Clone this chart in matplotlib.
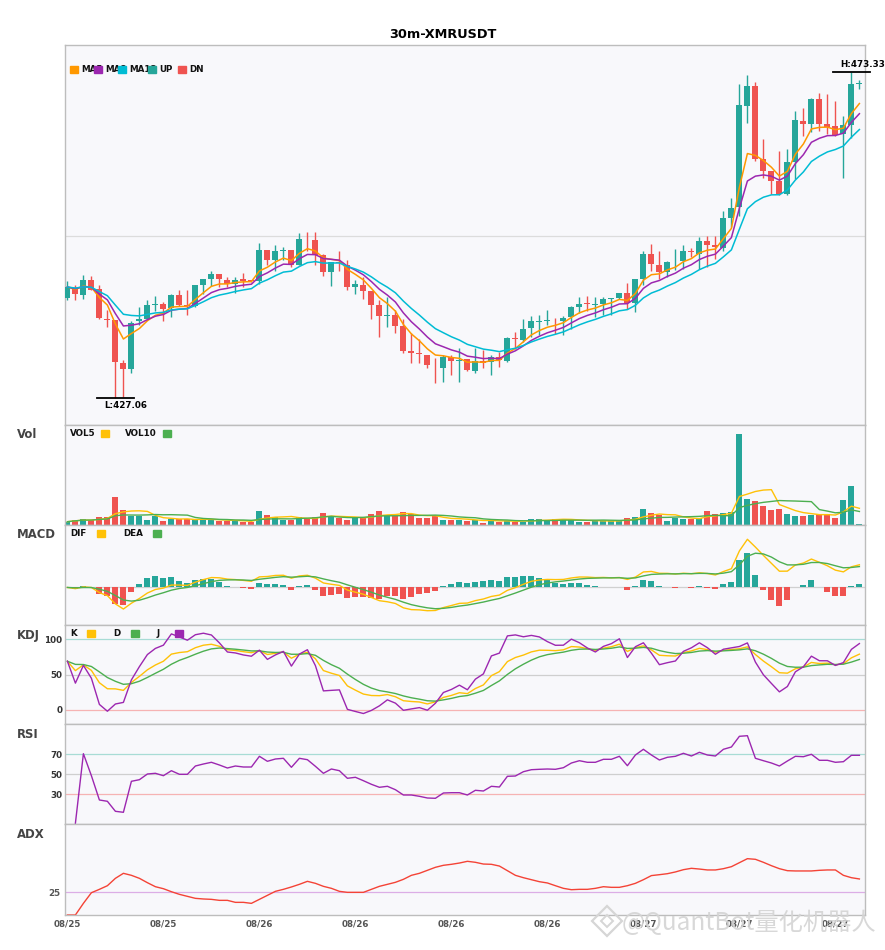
import numpy as np
import pandas as pd
import matplotlib
matplotlib.use('Agg')
import matplotlib.pyplot as plt
from matplotlib.patches import Rectangle
from matplotlib.lines import Line2D

plt.rcParams['font.family'] = ['DejaVu Sans']

# %% data (30m candles, 100 bars)
TITLE = '30m-XMRUSDT'
START = '2025-08-25 13:30'

opens = [441.31, 442.58, 441.73, 443.86, 442.58, 438.34, 438.10, 431.97, 431.16, 437.96,
         438.34, 440.22, 440.36, 439.89, 441.63, 440.22, 440.08, 443.05, 443.90, 444.71,
         443.86, 443.29, 443.90, 443.76, 443.66, 448.10, 446.59, 447.90, 448.00, 445.88,
         449.66, 449.52, 447.29, 444.93, 446.35, 445.88, 442.81, 443.05, 442.24, 440.22,
         438.66, 438.80, 437.25, 433.71, 433.47, 433.14, 431.49, 431.35, 432.82, 432.37,
         432.58, 430.88, 432.30, 432.20, 432.82, 432.30, 435.51, 435.27, 437.01, 437.81,
         437.96, 438.03, 437.96, 438.56, 439.98, 440.46, 440.29, 440.40, 441.11, 441.25,
         442.02, 440.55, 443.90, 447.54, 445.98, 444.93, 446.30, 446.45, 447.95, 447.54,
         449.28, 448.71, 448.33, 452.63, 454.13, 468.52, 471.35, 460.98, 459.32, 457.91,
         456.03, 460.60, 466.35, 465.97, 469.44, 465.93, 465.69, 464.51, 465.79, 471.63]
highs = [443.62, 443.05, 444.56, 444.32, 443.05, 439.51, 438.10, 432.44, 437.96, 439.98,
         441.03, 441.49, 440.69, 441.78, 442.44, 442.44, 443.15, 444.00, 445.03, 444.71,
         444.22, 444.22, 444.79, 443.86, 449.03, 448.10, 448.81, 448.47, 448.00, 450.51,
         450.59, 450.69, 447.54, 446.35, 447.95, 446.69, 443.86, 444.22, 442.24, 440.93,
         441.39, 439.51, 438.34, 436.22, 435.37, 433.14, 432.68, 433.14, 433.14, 434.09,
         432.58, 434.18, 433.85, 433.14, 433.53, 435.73, 436.44, 438.34, 438.71, 438.80,
         439.51, 438.42, 438.71, 440.08, 441.39, 441.54, 441.39, 441.39, 441.31, 442.02,
         443.43, 444.00, 447.95, 448.85, 447.95, 446.45, 448.14, 448.71, 448.38, 449.88,
         450.12, 450.12, 453.66, 455.46, 471.59, 472.91, 471.92, 463.81, 459.32, 462.15,
         462.44, 467.81, 468.28, 469.69, 470.32, 470.17, 469.23, 467.10, 473.33, 472.20]
lows = [441.03, 441.03, 441.17, 442.34, 438.20, 437.15, 427.06, 427.16, 430.64, 437.39,
        438.20, 439.37, 437.96, 438.56, 440.08, 438.80, 439.98, 441.88, 442.95, 442.81,
        442.81, 441.96, 442.81, 443.57, 443.29, 445.88, 445.07, 446.69, 445.64, 445.88,
        447.95, 445.88, 444.32, 442.91, 445.07, 442.44, 441.78, 441.17, 438.20, 435.73,
        437.15, 436.22, 433.47, 432.06, 432.06, 431.35, 429.14, 429.37, 430.31, 429.28,
        430.92, 430.56, 431.35, 430.31, 431.49, 432.11, 433.99, 435.03, 435.73, 435.97,
        437.39, 436.12, 435.97, 436.92, 439.19, 439.41, 438.56, 438.80, 438.90, 441.17,
        439.75, 439.27, 443.05, 445.07, 443.90, 444.22, 445.17, 445.41, 447.06, 445.41,
        445.64, 446.73, 447.95, 451.30, 452.95, 466.16, 460.74, 458.26, 456.03, 455.93,
        455.93, 458.15, 464.27, 464.84, 464.98, 464.51, 464.27, 458.23, 464.03, 470.97]
closes = [442.81, 441.78, 443.86, 442.44, 438.42, 438.10, 432.20, 431.16, 437.77, 438.34,
          440.22, 440.36, 439.75, 441.63, 440.22, 440.08, 443.05, 443.90, 444.71, 443.90,
          443.29, 443.86, 443.71, 443.66, 448.10, 446.69, 447.86, 448.00, 445.88, 449.66,
          449.56, 447.29, 444.93, 446.35, 446.20, 442.81, 443.19, 442.24, 440.22, 438.66,
          438.76, 437.25, 433.71, 433.47, 433.24, 431.73, 431.40, 432.82, 432.34, 432.44,
          431.02, 432.30, 431.97, 432.90, 432.44, 435.51, 435.41, 436.92, 437.96, 437.88,
          438.03, 437.93, 438.48, 439.98, 440.46, 440.36, 440.36, 441.17, 441.17, 442.02,
          440.60, 443.90, 447.54, 446.12, 444.93, 446.35, 446.40, 447.95, 447.72, 449.28,
          448.81, 448.53, 452.63, 454.04, 468.62, 471.35, 460.98, 459.32, 457.91, 456.03,
          460.60, 466.54, 466.02, 469.51, 465.93, 465.59, 464.42, 465.79, 471.59, 471.70]
volumes = [330, 500, 630, 500, 830, 830, 2830, 1530, 930, 930,
           530, 870, 370, 600, 600, 600, 530, 530, 530, 430,
           370, 430, 330, 270, 1430, 1030, 830, 470, 470, 830,
           700, 830, 1230, 830, 700, 530, 700, 830, 1130, 1430,
           930, 870, 1330, 1100, 670, 670, 870, 530, 530, 530,
           430, 530, 230, 530, 330, 430, 330, 330, 600, 600,
           530, 600, 530, 530, 330, 330, 430, 430, 430, 430,
           730, 830, 1630, 1230, 1030, 430, 730, 630, 630, 730,
           1430, 1130, 1230, 1330, 9030, 2630, 2430, 1930, 1530, 1630,
           1130, 930, 930, 1030, 1130, 1130, 730, 2530, 3830, 70]
# RSI and ADX as drawn in the chart
rsi_vals = [np.nan, 0.7, 70.3, 48.3, 24.0, 22.7, 12.7, 11.7, 42.7, 44.3,
            50.0, 50.7, 48.3, 53.3, 49.7, 49.7, 58.0, 60.0, 61.7, 59.0,
            56.0, 58.0, 57.0, 57.0, 67.7, 62.7, 65.0, 65.7, 56.7, 65.7,
            64.3, 57.7, 50.7, 55.0, 53.3, 45.7, 46.7, 43.3, 39.7, 36.7,
            37.7, 34.3, 29.0, 29.0, 27.7, 26.0, 25.7, 31.0, 31.3, 31.3,
            29.0, 33.7, 33.0, 37.7, 37.0, 47.7, 48.0, 52.3, 54.3, 54.7,
            55.0, 54.7, 56.3, 61.0, 63.3, 61.7, 61.7, 64.7, 64.7, 67.7,
            58.3, 69.0, 74.7, 69.0, 64.0, 66.7, 67.7, 70.7, 68.0, 71.7,
            69.0, 68.0, 74.7, 77.0, 87.7, 88.3, 65.7, 63.3, 61.0, 58.0,
            63.0, 67.7, 67.3, 69.7, 63.7, 63.7, 61.7, 62.3, 68.7, 68.7]
adx_vals = [0.0, 0.0, 12.8, 24.5, 28.2, 32.2, 40.3, 45.8, 43.6, 40.3,
            35.5, 31.1, 28.9, 25.6, 22.7, 20.5, 18.3, 17.6, 17.2, 16.1,
            16.1, 13.9, 13.9, 12.8, 17.2, 21.6, 26.0, 28.2, 30.8, 33.7,
            37.0, 34.8, 31.5, 29.3, 26.0, 24.9, 24.9, 24.9, 28.2, 31.5,
            33.7, 35.9, 39.2, 43.6, 45.8, 49.1, 52.4, 54.6, 55.7, 57.1,
            59.0, 57.9, 56.0, 55.7, 53.8, 48.7, 43.6, 41.0, 38.8, 36.6,
            35.2, 32.2, 29.3, 27.8, 28.2, 28.2, 29.3, 31.1, 30.4, 30.4,
            32.2, 34.8, 38.8, 43.3, 44.3, 45.4, 47.3, 49.8, 51.3, 50.5,
            49.5, 49.5, 50.9, 53.1, 57.5, 61.9, 61.2, 57.9, 54.2, 50.9,
            48.7, 48.4, 48.4, 48.4, 49.1, 49.5, 49.5, 43.6, 41.0, 39.6]

# %% colours
UP = '#26a69a'
DN = '#ef5350'
C_MA5, C_MA8, C_MA13 = '#ff9800', '#9c27b0', '#00bcd4'
YEL, GRN, PUR = '#ffc107', '#4caf50', '#9c27b0'
BG = '#f8f8fb'
SPINE = '#bdbdbd'

# %% indicators
df = pd.DataFrame(dict(open=opens, high=highs, low=lows, close=closes, vol=volumes))
n = len(df)
x = np.arange(n)
times = pd.date_range(START, periods=n, freq='30min')
close = df['close']
is_up = (df['close'] >= df['open']).values
bar_colors = np.where(is_up, UP, DN)

ma5 = close.ewm(span=5, adjust=False).mean()
ma8 = close.ewm(span=8, adjust=False).mean()
ma13 = close.ewm(span=13, adjust=False).mean()
vol5 = df['vol'].rolling(5, min_periods=1).mean()
vol10 = df['vol'].rolling(10, min_periods=1).mean()

# fast MACD (5, 13, 5)
dif = ma5 - ma13
dea = dif.ewm(span=5, adjust=False).mean()
hist = 2 * (dif - dea)

low9 = df['low'].rolling(9, min_periods=1).min()
high9 = df['high'].rolling(9, min_periods=1).max()
rsv = (close - low9) / (high9 - low9) * 100
k = rsv.ewm(com=2, adjust=False).mean()
d = k.ewm(com=2, adjust=False).mean()
j = 3 * k - 2 * d

# %% layout (pixel based, 885x950)
W, H = 885, 950
fig = plt.figure(figsize=(W / 100, H / 100), dpi=100)


def add_panel(top, bottom):
  ax = fig.add_axes([65 / W, 1 - bottom / H, 800 / W, (bottom - top) / H])
  ax.set_facecolor(BG)
  for s in ax.spines.values():
    s.set_color(SPINE)
    s.set_linewidth(1.0)
  ax.set_xlim(-0.3, n - 0.3)
  ax.tick_params(length=0, labelbottom=False, labelsize=6.3, pad=2, colors='#333')
  return ax


def fx(px):
  return px / W


def fy(py):
  return 1 - py / H


def panel_label(text, py):
  fig.text(fx(17), fy(py), text, ha='left', va='center', fontsize=8.4,
           fontweight='bold', color='#444')


def legend_box(px, py, color):
  fig.add_artist(Rectangle((fx(px), fy(py + 3.8)), 7.6 / W, 7.6 / H,
                           transform=fig.transFigure, color=color, zorder=6))


def legend_text(px, py, text):
  fig.text(fx(px), fy(py), text, ha='left', va='center', fontsize=6.3,
           fontweight='bold', color='#111', zorder=5)


ax_main = add_panel(45, 425)
ax_vol = add_panel(425, 525)
ax_macd = add_panel(525, 625)
ax_kdj = add_panel(625, 724)
ax_rsi = add_panel(724, 824)
ax_adx = add_panel(824, 915)

fig.text(0.5, fy(34), TITLE, ha='center', va='center', fontsize=9.3, fontweight='bold')

# %% main: candles + MA
body = np.maximum((df['close'] - df['open']).abs().values, 0.12)
ax_main.vlines(x, df['low'], df['high'], colors=bar_colors, lw=1.0, zorder=2)
ax_main.bar(x, body, bottom=np.minimum(df['open'], df['close']), width=0.75,
            color=bar_colors, zorder=3)
ax_main.plot(x, ma5, color=C_MA5, lw=1.1, zorder=4)
ax_main.plot(x, ma8, color=C_MA8, lw=1.1, zorder=4)
ax_main.plot(x, ma13, color=C_MA13, lw=1.1, zorder=4)
lo, hi = df['low'].min(), df['high'].max()
pad = (hi - lo) * 0.083
ax_main.set_ylim(lo - pad, hi + pad)
ax_main.set_yticks([450])
ax_main.tick_params(labelleft=False)
ax_main.grid(axis='y', color='#dcdcdc', lw=0.9)
ax_main.set_axisbelow(True)

i_hi = int(df['high'].idxmax())
i_lo = int(df['low'].idxmin())
ax_main.plot([i_hi - 2.3, i_hi + 2.3], [hi, hi], color='black', lw=1.3, clip_on=False, zorder=5)
ax_main.annotate(f'H:{hi:.2f}', (i_hi - 1.4, hi), xytext=(0, 2), textcoords='offset points',
                 ha='left', va='bottom', fontsize=6.3, fontweight='bold', annotation_clip=False)
ax_main.plot([i_lo - 2.3, i_lo + 2.3], [lo, lo], color='black', lw=1.3, clip_on=False, zorder=5)
ax_main.annotate(f'L:{lo:.2f}', (i_lo - 1.4, lo), xytext=(0, -2), textcoords='offset points',
                 ha='left', va='top', fontsize=6.3, fontweight='bold', annotation_clip=False)

for sx, label, c in [(70, 'MA5', C_MA5), (94, 'MA8', C_MA8), (118, 'MA13', C_MA13),
                     (148, 'UP', UP), (178, 'DN', DN)]:
  legend_box(sx, 69.5, c)
  legend_text(sx + 11, 69.5, label)

# %% volume
ax_vol.bar(x, df['vol'], width=0.75, color=bar_colors)
ax_vol.plot(x, vol5, color=YEL, lw=1.0)
ax_vol.plot(x, vol10, color=GRN, lw=1.0)
ax_vol.set_ylim(0, df['vol'].max() * 1.1)
ax_vol.set_yticks([])
panel_label('Vol', 435)
legend_text(70, 433.5, 'VOL5')
legend_box(101, 433.5, YEL)
legend_text(125, 433.5, 'VOL10')
legend_box(163, 433.5, GRN)

# %% MACD
ax_macd.axhline(0, color='#d0d0d0', lw=0.9, zorder=0)
ax_macd.bar(x, hist, width=0.75, color=np.where(hist >= 0, UP, DN))
ax_macd.plot(x, dif, color=YEL, lw=1.0)
ax_macd.plot(x, dea, color=GRN, lw=1.0)
m_lo = min(dif.min(), dea.min(), hist.min())
m_hi = max(dif.max(), dea.max(), hist.max())
m_pad = (m_hi - m_lo) * 0.2
ax_macd.set_ylim(m_lo - m_pad, m_hi + m_pad)
ax_macd.set_yticks([])
panel_label('MACD', 534)
legend_text(70, 533.5, 'DIF')
legend_box(97, 533.5, YEL)
legend_text(123, 533.5, 'DEA')
legend_box(153, 533.5, GRN)

# %% KDJ
ax_kdj.axhline(100, color='#a8dcd5', lw=0.9, zorder=0)
ax_kdj.axhline(50, color='#cfcfcf', lw=0.9, zorder=0)
ax_kdj.axhline(0, color='#f6b3b3', lw=0.9, zorder=0)
ax_kdj.plot(x, k, color=YEL, lw=1.0)
ax_kdj.plot(x, d, color=GRN, lw=1.0)
ax_kdj.plot(x, j, color=PUR, lw=1.0)
ax_kdj.set_ylim(-20, 120)
ax_kdj.set_yticks([0, 50, 100])
panel_label('KDJ', 635)
legend_text(70, 633.5, 'K')
legend_box(87, 633.5, YEL)
legend_text(113, 633.5, 'D')
legend_box(131, 633.5, GRN)
legend_text(157, 633.5, 'J')
legend_box(175, 633.5, PUR)

# %% RSI
ax_rsi.axhline(70, color='#a8dcd5', lw=0.9, zorder=0)
ax_rsi.axhline(50, color='#cfcfcf', lw=0.9, zorder=0)
ax_rsi.axhline(30, color='#f6b3b3', lw=0.9, zorder=0)
ax_rsi.plot(x, rsi_vals, color=PUR, lw=1.0)
ax_rsi.set_ylim(0, 100)
ax_rsi.set_yticks([30, 50, 70])
panel_label('RSI', 735)

# %% ADX
ax_adx.axhline(25, color='#dcaee6', lw=0.9, zorder=0)
ax_adx.plot(x, adx_vals, color='#f44336', lw=1.0)
ax_adx.set_ylim(0, 100)
ax_adx.set_yticks([25])
panel_label('ADX', 835)

tick_idx = np.arange(0, n, 12)
ax_adx.set_xticks(tick_idx)
ax_adx.set_xticklabels(times[tick_idx].strftime('%m/%d'))
ax_adx.tick_params(labelbottom=True, colors='#555', pad=3)

for ax in (ax_kdj, ax_rsi, ax_adx):
  for lab in ax.get_yticklabels() + ax.get_xticklabels():
    lab.set_fontweight('bold')

# watermark of the source picture
fig.add_artist(Line2D([fx(607)], [fy(921)], marker='D', markersize=15, mfc='none',
                      mec='#d6d6d6', mew=1.6, transform=fig.transFigure, zorder=10))
fig.add_artist(Line2D([fx(607)], [fy(921)], marker='D', markersize=6, mfc='none',
                      mec='#d6d6d6', mew=1.4, transform=fig.transFigure, zorder=10))
fig.text(fx(622), fy(923), '@QuantBot量化机器人', ha='left', va='center', fontsize=17.5,
         color='#d4d4d4', alpha=0.9, family=['Noto Sans CJK SC', 'DejaVu Sans'], zorder=10)

fig.savefig('out.png', dpi=100)
